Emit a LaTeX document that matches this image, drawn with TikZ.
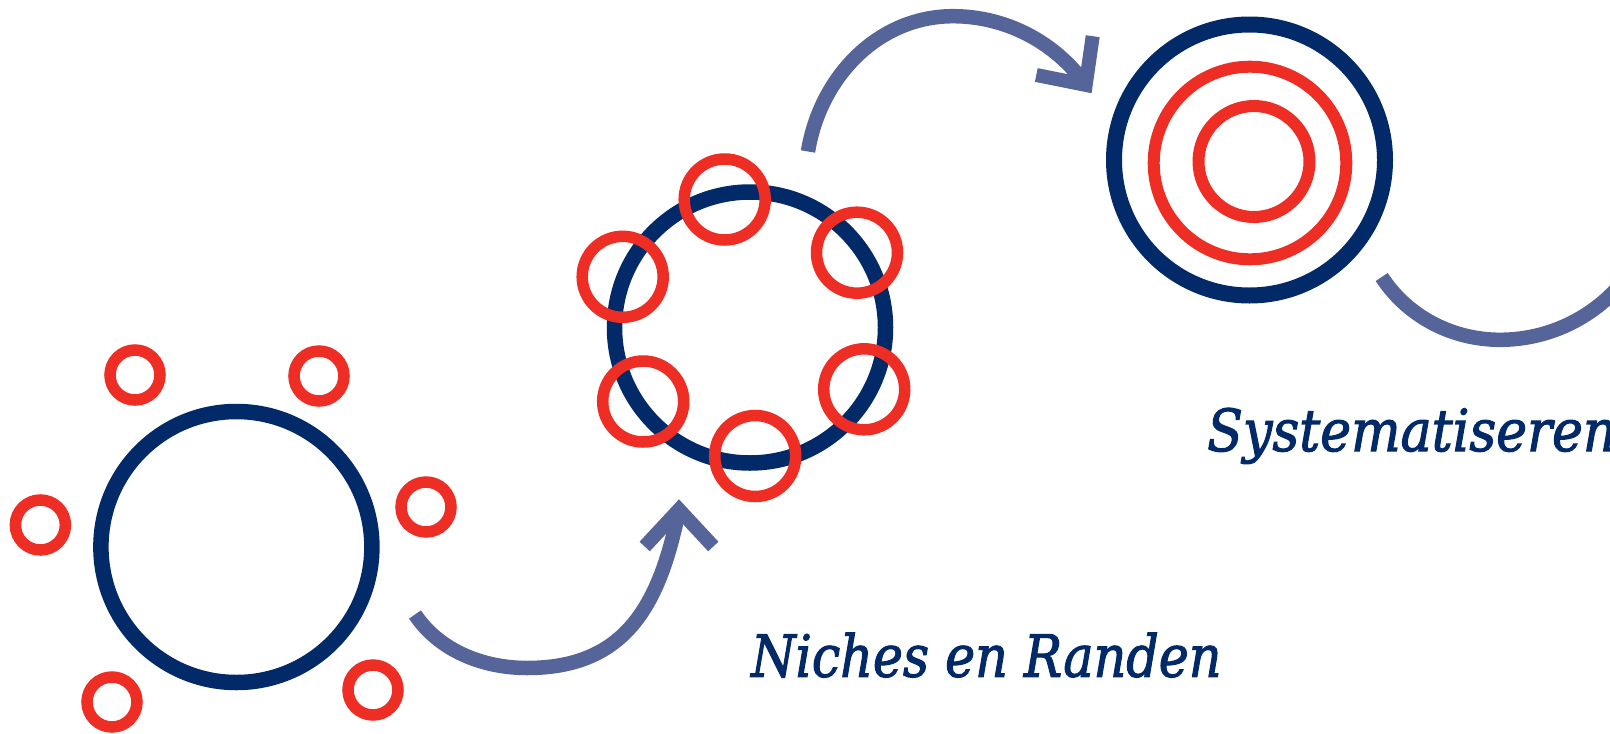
\documentclass[tikz,border=0pt]{standalone}
\usepackage{fontspec}
\usepackage{graphicx}
\newfontfamily\labelfont[FakeBold=2]{DejaVu Serif}
\definecolor{navy}{HTML}{022A69}
\definecolor{cred}{HTML}{EE2E24}
\definecolor{slate}{HTML}{556599}
\tikzset{
  bigring/.style={circle, draw=navy, line width=15.5pt, minimum size=271pt, inner sep=0pt},
  dotring/.style={circle, draw=cred, line width=11.5pt, minimum size=50pt, inner sep=0pt},
  midring/.style={circle, draw=cred, line width=11.5pt, minimum size=81pt, inner sep=0pt},
  shaft/.style={draw=slate, line width=14.5pt, line cap=butt},
  chevron/.style={draw=slate, line width=14pt, line cap=butt, line join=miter},
  caption/.style={text=navy, inner sep=0pt, font=\labelfont\itshape\fontsize{58}{62}\selectfont}
}
\newcommand{\squeezed}[2]{\scalebox{#1}[1]{#2}}
\begin{document}
\begin{tikzpicture}[x=1pt, y=-1pt]
\useasboundingbox (0,0) rectangle (1610,734);
\clip (0,0) rectangle (1610,734);
% stage 1
\node[bigring] (c1) at (236.4,547) {};
\node[dotring] (d1) at (135,375) {};
\node[dotring] (d2) at (319,376) {};
\node[dotring] (d3) at (40.4,525) {};
\node[dotring] (d4) at (426,507) {};
\node[dotring] (d5) at (112,702) {};
\node[dotring] (d6) at (373,690) {};
% stage 2
\node[bigring] (c2) at (750,327.5) {};
\node[midring] (m1) at (724.7,199.5) {};
\node[midring] (m2) at (857,252.7) {};
\node[midring] (m3) at (622.7,276.8) {};
\node[midring] (m4) at (643.2,401.5) {};
\node[midring] (m5) at (864.2,389.3) {};
\node[midring] (m6) at (755.2,456) {};
% stage 3
\node[bigring, line width=16pt] (c3) at (1249.5,160) {};
\node[circle, draw=cred, line width=12pt, minimum size=192.6pt, inner sep=0pt] (r1) at (1250,163) {};
\node[circle, draw=cred, line width=12pt, minimum size=111pt, inner sep=0pt] (r2) at (1254,161.5) {};
% arrow 1
\coordinate (a1s) at (415,614.5);
\coordinate (a1b) at (527,668);
\coordinate (a1t) at (679,509.6);
\coordinate (a1l) at (644.7,546.5);
\coordinate (a1r) at (713.3,546.5);
\path[shaft] (a1s) .. controls (439.3,650.9) and (483.3,668) .. (a1b)
  .. controls (627,668) and (660,603) .. (a1t);
\path[chevron] (a1l) -- (a1t) -- (a1r);
% arrow 2
\coordinate (a2s) at (808,151.5);
\coordinate (a2m) at (953,16.2);
\coordinate (a2t) at (1085.7,84.9);
\coordinate (a2u) at (1092.7,36.2);
\coordinate (a2l) at (1036.3,75);
\path[shaft] (a2s) .. controls (820,77.2) and (878,16.2) .. (a2m)
  .. controls (1005.7,16.2) and (1055.2,41.9) .. (a2t);
\path[chevron] (a2u) -- (a2t) -- (a2l);
% arrow 3 (cut by the edge)
\coordinate (a3s) at (1381.7,277);
\coordinate (a3b) at (1500,339.8);
\coordinate (a3e) at (1622,282.9);
\path[shaft] (a3s) .. controls (1407.7,316.8) and (1452.5,339.8) .. (a3b)
  .. controls (1547.1,339.8) and (1591.7,319) .. (a3e);
% labels
\node[caption, anchor=base west] (t1) at (751,676.7) {\squeezed{0.875}{Niches en Randen}};
\node[caption, anchor=base west] (t2) at (1207,451) {\squeezed{0.9}{Systematiseren}};
\end{tikzpicture}
\end{document}
